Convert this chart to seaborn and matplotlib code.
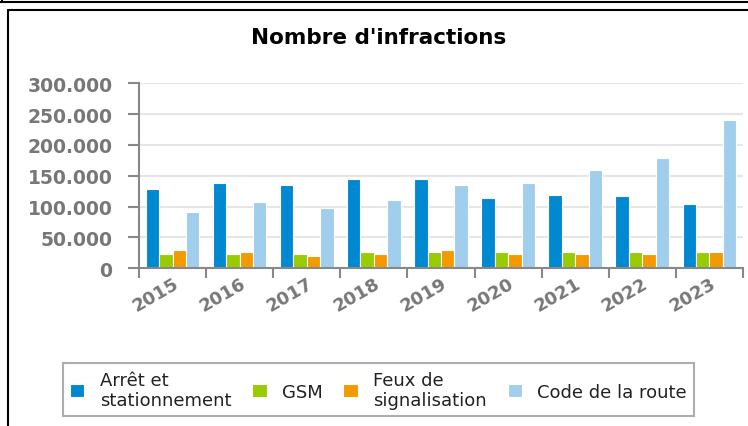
import numpy as np
import pandas as pd
import matplotlib
matplotlib.use("Agg")
import matplotlib.pyplot as plt
from matplotlib.ticker import FuncFormatter
from matplotlib.lines import Line2D
import seaborn as sns

years = ["2015", "2016", "2017", "2018", "2019", "2020", "2021", "2022", "2023"]
series = ["Arrêt et\nstationnement", "GSM", "Feux de\nsignalisation", "Code de la route"]

arret = [128600, 137800, 135000, 144300, 144300, 113500, 119400, 116700, 103800]
gsm = [23700, 23700, 23700, 27000, 27000, 27000, 27000, 27000, 27000]
feux = [29700, 27000, 20500, 23700, 29700, 23700, 23700, 23700, 27000]
code = [91800, 107000, 97800, 110300, 134600, 137800, 159400, 178400, 240000]

colors = ["#0089D1", "#99CC00", "#F39A00", "#A2CEEE"]

df = pd.DataFrame({
    "annee": years * 4,
    "type": [s for s in series for _ in years],
    "nombre": arret + gsm + feux + code,
})

sns.set_style("white")
plt.rcParams["font.family"] = ["DejaVu Sans"]

fig = plt.figure(figsize=(7.48, 4.27), dpi=100)
ax = fig.add_axes([0.1858, 0.3693, 0.8075, 0.4333])

sns.barplot(data=df, x="annee", y="nombre", hue="type", hue_order=series,
            palette=colors, width=0.8, edgecolor="white", linewidth=0.8,
            saturation=1, ax=ax)

ax.set_ylim(0, 300000)
ax.set_xlim(-0.5, len(years) - 0.5)
ax.set_yticks(np.arange(0, 300001, 50000))
ax.yaxis.set_major_formatter(FuncFormatter(lambda v, p: f"{int(v):,}".replace(",", ".")))
ax.grid(axis="y", color="#e6e6e6", linewidth=1.5)
ax.set_axisbelow(True)

# ticks between groups, labels at group centres
ax.set_xticks(np.arange(-0.5, len(years)), labels=[""] * (len(years) + 1))
ax.set_xticks(np.arange(len(years)), labels=years, minor=True)
ax.tick_params(axis="x", which="major", bottom=True, length=7, width=1.5,
               color="#888888", direction="out")
ax.tick_params(axis="x", which="minor", bottom=True, length=0, pad=4)
ax.tick_params(axis="y", left=True, length=8, width=1.5, color="#888888", pad=11,
               direction="out")
for lab in ax.get_xticklabels(minor=True):
    lab.set_rotation(30)
    lab.set_ha("right")
    lab.set_rotation_mode("anchor")
    lab.set_fontsize(13)
    lab.set_fontweight("bold")
    lab.set_color("#777777")
for lab in ax.get_yticklabels():
    lab.set_fontsize(13.5)
    lab.set_fontweight("bold")
    lab.set_color("#777777")

for side in ["top", "right"]:
    ax.spines[side].set_visible(False)
for side in ["left", "bottom"]:
    ax.spines[side].set_color("#888888")
    ax.spines[side].set_linewidth(1.5)

ax.set_xlabel("")
ax.set_ylabel("")

handles, labels = ax.get_legend_handles_labels()
ax.get_legend().remove()
leg = fig.legend(handles, labels, loc="center", bbox_to_anchor=(0.506, 0.085), ncol=4,
                 frameon=True, fancybox=False, fontsize=13, handlelength=0.8,
                 handleheight=0.8, handletextpad=0.85, columnspacing=1.15,
                 borderpad=0.4, labelcolor="#222222")
for t in leg.get_texts():
    t.set_linespacing(1.15)
leg.get_frame().set_edgecolor("#999999")
leg.get_frame().set_linewidth(1.5)

fig.text(0.506, 0.912, "Nombre d'infractions", ha="center", va="center",
         fontsize=15.5, fontweight="bold", color="#000000")

# surrounding frame
fig.add_artist(Line2D([0, 1], [1 - 3 / 427, 1 - 3 / 427], color="black", lw=1.5))
fig.add_artist(Line2D([2 / 748, 2 / 748], [1, 1 - 3 / 427], color="black", lw=1.5))
fig.add_artist(Line2D([8 / 748, 1], [1 - 11 / 427, 1 - 11 / 427], color="black", lw=1.5))
fig.add_artist(Line2D([8 / 748, 8 / 748], [0, 1 - 11 / 427], color="black", lw=1.5))

fig.savefig("out.png", dpi=100)
